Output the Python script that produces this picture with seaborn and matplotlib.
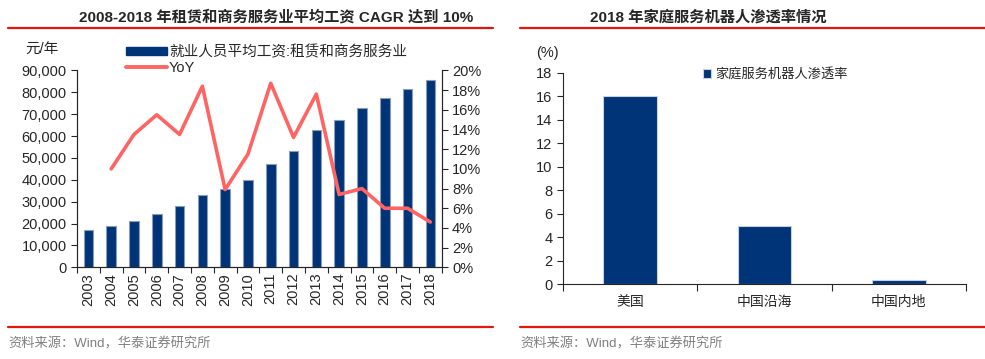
import numpy as np
import pandas as pd
import seaborn as sns
import matplotlib.pyplot as plt
from matplotlib.patches import Patch
from matplotlib.lines import Line2D

years = [str(y) for y in range(2003, 2019)]
wage = [17000, 18800, 21400, 24600, 28000, 33200, 35600, 39900,
        47200, 53300, 62800, 67400, 72700, 77200, 81700, 85600]
yoy = [np.nan, 10.0, 13.5, 15.5, 13.5, 18.4, 7.9, 11.5,
       18.7, 13.2, 17.6, 7.4, 8.0, 6.0, 6.0, 4.6]

regions = ['美国', '中国沿海', '中国内地']
penetration = [16, 5, 0.4]

left_title = '2008-2018 年租赁和商务服务业平均工资 CAGR 达到 10%'
right_title = '2018 年家庭服务机器人渗透率情况'
source = '资料来源：Wind，华泰证券研究所'

NAVY = '#003478'
SALMON = '#FF6464'
RED = '#E3170A'

sns.set_style('ticks')
plt.rcParams['font.family'] = ['Liberation Sans', 'Noto Sans CJK SC', 'DejaVu Sans']
plt.rcParams['axes.unicode_minus'] = False

W, H = 985, 359
fig = plt.figure(figsize=(W / 100, H / 100), dpi=100)


def fx(px):
    return px / W


def fy(py):
    return 1 - py / H


# ---- left panel ----
df = pd.DataFrame({'year': years, 'wage': wage, 'yoy': yoy, 'pos': np.arange(len(years))})
ax = fig.add_axes([fx(77), fy(267.3), fx(441.7 - 77), (267.3 - 70.5) / H])
sns.barplot(data=df, x='year', y='wage', color=NAVY, width=0.42, ax=ax,
            edgecolor='#8C9BB8', linewidth=0.8, saturation=1)
ax.set_ylim(0, 90000)
ax.set_xlim(-0.5, len(years) - 0.5)
ax.set_yticks(np.arange(0, 90001, 10000))
ax.set_yticklabels([f'{v:,}' for v in range(0, 90001, 10000)], fontsize=10.5)
ax.set_xlabel('')
ax.set_ylabel('')
ax.tick_params(axis='x', length=0, labelsize=10.5, rotation=90, pad=4)
ax.set_xticks(np.arange(-0.5, len(years)), minor=True)
ax.tick_params(axis='x', which='minor', length=4, width=0.8)
ax.tick_params(axis='y', length=4, width=0.8)
ax.spines['top'].set_visible(False)

ax2 = ax.twinx()
sns.lineplot(data=df, x='pos', y='yoy', color=SALMON, linewidth=2.6, ax=ax2)
ax2.set_ylim(0, 20)
ax2.set_yticks(np.arange(0, 21, 2))
ax2.set_yticklabels([f'{v}%' for v in range(0, 21, 2)], fontsize=10.5)
ax2.set_ylabel('')
ax2.set_xlabel('')
ax2.tick_params(axis='y', length=4, width=0.8)
ax2.spines['top'].set_visible(False)
ax2.set_xlim(-0.5, len(years) - 0.5)
for a in (ax, ax2):
    for s in a.spines.values():
        s.set_linewidth(0.8)

handles = [Patch(color=NAVY), Line2D([], [], color=SALMON, linewidth=2.8)]
ax.legend(handles, ['就业人员平均工资:租赁和商务服务业', 'YoY'], loc='upper left',
          bbox_to_anchor=(fx(120), fy(39)), bbox_transform=fig.transFigure,
          frameon=False, fontsize=10.5, handlelength=2.8, handleheight=0.55,
          handletextpad=0.15, labelspacing=0.1, borderaxespad=0)
fig.text(fx(25), fy(50), '元/年', fontsize=10.5, va='center', ha='left')

# ---- right panel ----
dr = pd.DataFrame({'region': regions, 'value': penetration})
bx = fig.add_axes([fx(563), fy(284.3), fx(966 - 563), (284.3 - 72.7) / H])
sns.barplot(data=dr, x='region', y='value', color=NAVY, width=0.4, ax=bx,
            edgecolor='#C8D0DE', linewidth=0.8, saturation=1,
            label='家庭服务机器人渗透率')
bx.set_ylim(0, 18)
bx.set_xlim(-0.5, len(regions) - 0.5)
bx.set_yticks(np.arange(0, 19, 2))
bx.tick_params(axis='y', labelsize=10.5, length=4, width=0.8)
bx.tick_params(axis='x', length=0, labelsize=10, pad=8)
bx.set_xticks(np.arange(-0.5, len(regions)), minor=True)
bx.tick_params(axis='x', which='minor', length=5, width=0.8)
bx.set_xlabel('')
bx.set_ylabel('')
for s in ('top', 'right'):
    bx.spines[s].set_visible(False)
for s in bx.spines.values():
    s.set_linewidth(0.8)
bx.legend(loc='upper left', bbox_to_anchor=(fx(698), fy(63)), bbox_transform=fig.transFigure,
          frameon=False, fontsize=9.5, handlelength=0.6, handleheight=0.6,
          handletextpad=0.3, borderaxespad=0)
fig.text(fx(536), fy(53), '(%)', fontsize=10.5, va='center', ha='left')

# ---- titles, rules, sources ----
fig.text(fx(276), fy(17), left_title, fontsize=11, fontweight='bold', ha='center', va='center')
fig.text(fx(708), fy(17), right_title, fontsize=11, fontweight='bold', ha='center', va='center')
for x0, x1 in ((8, 493), (520, 985)):
    for yy in (27.7, 326.7):
        fig.add_artist(Line2D([fx(x0), fx(x1)], [fy(yy), fy(yy)], color=RED, linewidth=1.6))
    fig.text(fx(x0), fy(344), source, fontsize=9.5, color='#808080', ha='left', va='center')

fig.savefig('out.png', dpi=100)
